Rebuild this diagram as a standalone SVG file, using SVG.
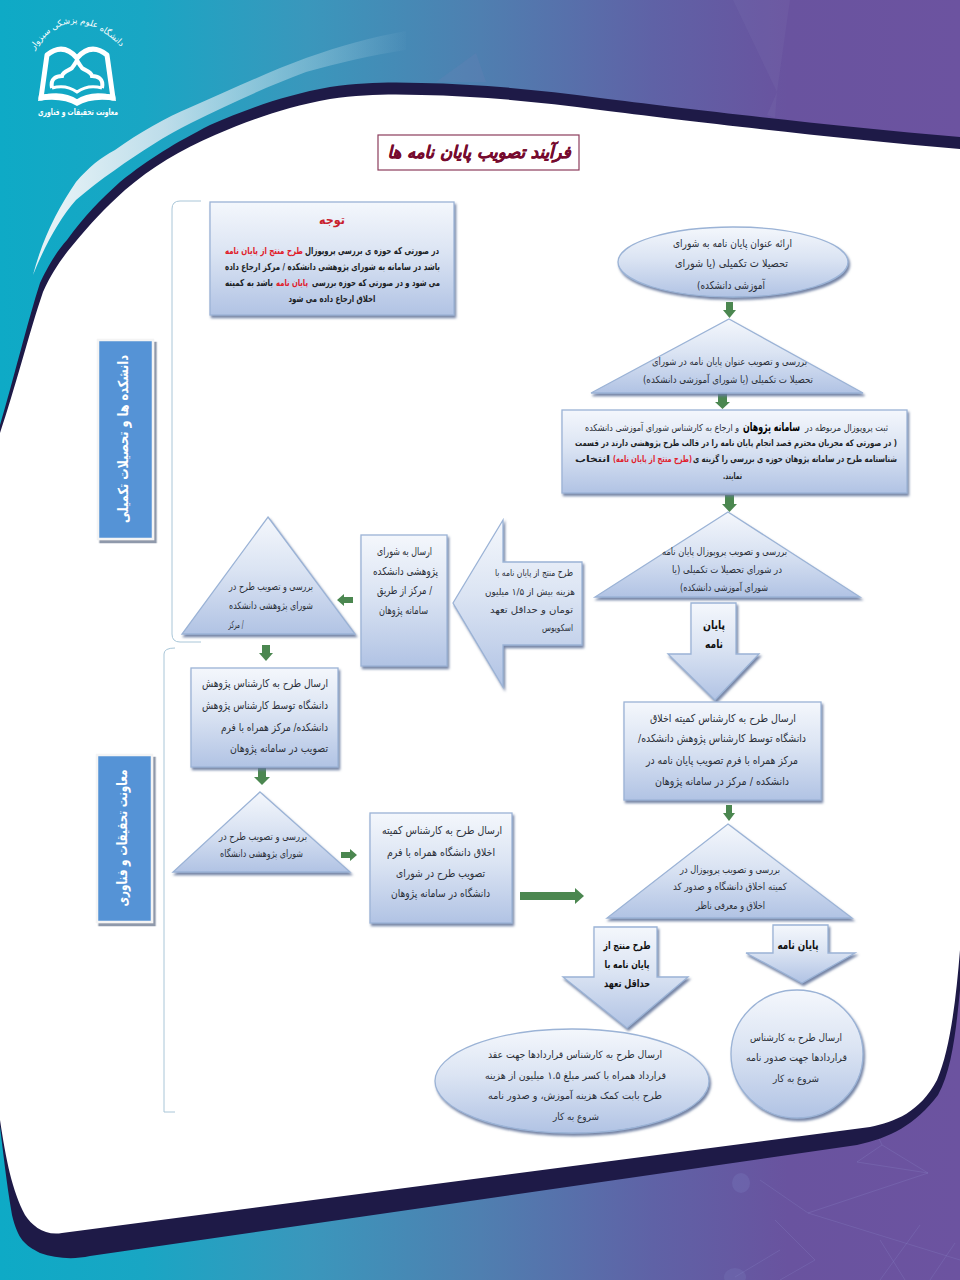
<svg xmlns="http://www.w3.org/2000/svg" width="960" height="1280" viewBox="0 0 960 1280">
<style>
text{font-family:"DejaVu Sans","Noto Sans",sans-serif;direction:rtl;text-anchor:middle;fill:#2a2f38}
.r{font-size:11px}
.s{font-size:10px}
.b{font-weight:bold;font-size:9.5px;fill:#1c1f26}
.p{font-weight:bold;font-size:9px;fill:#1c1f26}
.h{font-weight:bold;font-size:11.5px;fill:#111}
.red{fill:#e0202c}
.shape{fill:url(#nodeFill);stroke:#9bb3d6;stroke-width:1.3;filter:url(#sh)}
.conn{fill:#4b8750}
.br{fill:none;stroke:#a9c6d8;stroke-width:1}
.lab{fill:#5593d6;stroke:#f4f4f4;stroke-width:2.5;filter:url(#lsh)}
.lt{fill:#fff;font-weight:bold;font-size:14px}
.net{fill:none;stroke:#8a86c4;stroke-width:1;opacity:.28}
</style>
<defs>
<linearGradient id="bg" x1="0" x2="1" y1="0" y2="0">
<stop offset="0" stop-color="#0eaac6"/><stop offset=".15" stop-color="#19a6c4"/><stop offset=".32" stop-color="#3a97bc"/><stop offset=".5" stop-color="#4f7fb0"/><stop offset=".68" stop-color="#5f62a6"/><stop offset=".82" stop-color="#69539f"/><stop offset="1" stop-color="#6c53a0"/>
</linearGradient>
<linearGradient id="nodeFill" x1="0" x2="0" y1="0" y2="1">
<stop offset="0" stop-color="#f4f7fc"/><stop offset=".45" stop-color="#dbe4f3"/><stop offset="1" stop-color="#b1c3e4"/>
</linearGradient>
<linearGradient id="swoosh" gradientUnits="userSpaceOnUse" x1="60" y1="0" x2="410" y2="0">
<stop offset="0" stop-color="#e4f1f6"/><stop offset=".3" stop-color="#cfe3ee" stop-opacity=".9"/><stop offset="1" stop-color="#cfe3ee" stop-opacity="0"/>
</linearGradient>
<filter id="sh" x="-10%" y="-10%" width="120%" height="125%"><feDropShadow dx="1.500" dy="2.500" stdDeviation=".8" flood-color="#66789c" flood-opacity=".9"/></filter>
<filter id="lsh" x="-10%" y="-10%" width="125%" height="115%"><feDropShadow dx="2.500" dy="3" stdDeviation=".4" flood-color="#8f99ab" flood-opacity="1"/></filter>
</defs>

<g id="background">
<rect width="960" height="1280" fill="url(#bg)"/>
<path d="M733 0H790L777 92Z M436 82L476 53L486 82Z M767 115L777 92L775 118Z" fill="#8a83bd" opacity=".13"/>
<path class="net" d="M882 1145L928 1173L857 1162L882 1145M928 1173L808 1213L960 1260M808 1213L760 1180M882 1145L875 1130M780 1250L735 1277M775 1220L815 1260L780 1280M880 1240L905 1280M920 1225L880 1280M955 1243L930 1280"/>
<ellipse cx="741" cy="1183" rx="9" ry="10" fill="#7b7fbf" opacity=".3"/>
<ellipse cx="735" cy="1277" rx="11" ry="9" fill="#7b7fbf" opacity=".25"/>
<path d="M33 275C42 240 58 208 76 182C90 166 100 158 115 150C140 132 165 118 191 107C230 90 268 72 306 58C340 46 372 37 406 31V50C372 55 338 63 306 72C268 86 230 104 191 123C165 136 140 152 115 170C100 180 88 190 76 200C60 218 45 245 33 275Z" fill="url(#swoosh)"/>
<path d="M0 425C12 385 28 320 40 283C50 262 58 250 67 240C85 215 100 200 120 182C150 158 175 143 210 125C250 108 285 95 330 87C365 82 395 82 421 83C480 84 540 90 600 98C680 108 820 125 960 137V990C956 1030 952 1070 938 1095C915 1125 890 1138 857 1145L90 1256C72 1260 55 1258 40 1253C25 1245 18 1240 12 1215C6 1180 3 1150 0 1127Z" fill="#1e1a47"/>
<path d="M0 433C14 392 30 330 43 292C52 272 62 258 72 246C90 224 105 208 125 190C152 167 180 150 215 135C250 120 285 107 330 99C365 94 395 94 421 95C480 96 540 102 600 110C680 120 820 137 960 149V950C956 1000 950 1050 937 1080C920 1112 895 1122 870 1127L62 1233C45 1236 32 1226 25 1215C12 1190 6 1160 0 1120Z" fill="#fff"/>
</g>

<g id="logo">
<path d="M47 55Q63 42 77 58Q91 42 107 55L113 98Q92 92 77 102Q62 92 41 98Z" fill="none" stroke="#fff" stroke-width="5" stroke-linejoin="round"/>
<path d="M39 95Q62 91 77 100Q92 91 115 95L116 101Q92 97 77 106Q62 97 38 101Z" fill="#fff"/>
<path d="M52 88C50 78 57 76 62 76C63 71 70 70 72 68C74 65 76 63 77 60C78 63 80 65 82 68C84 70 91 71 92 76C97 76 104 78 102 88" fill="none" stroke="#fff" stroke-width="4"/>
<path d="M52 88Q66 84 77 92Q88 84 102 88" fill="none" stroke="#fff" stroke-width="3"/>
<path id="arc" d="M30 56Q70 -8 126 52" fill="none"/>
<text style="fill:#fff;font-size:8.500px"><textPath href="#arc" startOffset="50%">دانشگاه علوم پزشکی سبزوار</textPath></text>
<text x="78" y="115" style="fill:#fff;font-weight:bold;font-size:9px" textLength="80" lengthAdjust="spacingAndGlyphs">معاونت تحقیقات و فناوری</text>
</g>

<g id="title">
<rect x="378" y="135" width="201" height="35" fill="#fff" stroke="#8c3d5c" stroke-width="1.200"/>
<text x="479" y="158" style="fill:#760a2e;stroke:#760a2e;stroke-width:.4;font-weight:bold;font-style:italic;font-size:17px" textLength="183" lengthAdjust="spacingAndGlyphs">فرآیند تصویب پایان نامه ها</text>
</g>

<g id="brackets">
<path class="br" d="M201 201H180Q172 201 172 209V634Q172 642 180 642H201"/>
<path class="br" d="M175 648Q164 648 164 654V1112H175"/>
</g>

<g id="label-faculty">
<rect class="lab" x="98" y="340" width="55" height="199"/>
<text class="lt" transform="translate(128 439) rotate(-90)" textLength="168" lengthAdjust="spacingAndGlyphs">دانشکده ها و تحصیلات تکمیلی</text>
</g>
<g id="label-research">
<rect class="lab" x="97" y="755" width="55" height="167"/>
<text class="lt" transform="translate(127 838) rotate(-90)" textLength="137" lengthAdjust="spacingAndGlyphs">معاونت تحقیقات و فناوری</text>
</g>

<g id="connectors">
<polygon class="conn" points="726,302 733,302 733,310 736,310 729.500,318 723,310 726,310"/>
<polygon class="conn" points="718,393 727,393 727,402 730,402 722.500,409 715,402 718,402"/>
<polygon class="conn" points="725,495 734,495 734,504 737,504 729.500,512 722,504 725,504"/>
<polygon class="conn" points="726,805 732,805 732,813 735,813 729,821 723,813 726,813"/>
<polygon class="conn" points="353,597 344,597 344,594 337,600 344,606 344,603 353,603"/>
<polygon class="conn" points="262,645 270,645 270,653 273,653 266,661 259,653 262,653"/>
<polygon class="conn" points="258,768 266,768 266,777 270,777 262,785 254,777 258,777"/>
<polygon class="conn" points="341,852 350,852 350,849 357,855 350,861 350,858 341,858"/>
<polygon class="conn" points="520,892 575,892 575,888 584,896 575,904 575,900 520,900"/>
</g>

<g id="note">
<rect class="shape" x="210" y="202" width="244" height="113"/>
<text x="332" y="224" style="fill:#c8202c;font-weight:bold;font-size:12px" textLength="26" lengthAdjust="spacingAndGlyphs">توجه</text>
<text class="b" x="372" y="254" textLength="134" lengthAdjust="spacingAndGlyphs">در صورتی که حوزه ی بررسی پروپوزال</text>
<text class="b red" x="264" y="254" textLength="78" lengthAdjust="spacingAndGlyphs">طرح منتج از پایان نامه</text>
<text class="b" x="332.500" y="270" textLength="215" lengthAdjust="spacingAndGlyphs">باشد در سامانه به شورای پژوهشی دانشکده / مرکز ارجاع داده</text>
<text class="b" x="376" y="286" textLength="128" lengthAdjust="spacingAndGlyphs">می شود و در صورتی که حوزه بررسی</text>
<text class="b red" x="292" y="286" textLength="32" lengthAdjust="spacingAndGlyphs">پایان نامه</text>
<text class="b" x="249" y="286" textLength="48" lengthAdjust="spacingAndGlyphs">باشد به کمیته</text>
<text class="b" x="332" y="302" textLength="87" lengthAdjust="spacingAndGlyphs">اخلاق ارجاع داده می شود</text>
</g>

<g id="start-ellipse">
<ellipse class="shape" cx="733" cy="262" rx="115" ry="35"/>
<text class="r" x="732.500" y="247" textLength="119" lengthAdjust="spacingAndGlyphs">ارائه عنوان پایان نامه به شورای</text>
<text class="r" x="731.500" y="267" textLength="113" lengthAdjust="spacingAndGlyphs">تحصیلا ت تکمیلی (یا شورای</text>
<text class="r" x="731" y="289" textLength="68" lengthAdjust="spacingAndGlyphs">آموزشی دانشکده)</text>
</g>

<g id="title-review">
<polygon class="shape" points="729,319 863,393 591,393"/>
<text class="s" x="729.500" y="365" textLength="155" lengthAdjust="spacingAndGlyphs">بررسی و تصویب عنوان پایان نامه در شورای</text>
<text class="s" x="728" y="383" textLength="170" lengthAdjust="spacingAndGlyphs">تحصیلا ت تکمیلی (یا شورای آموزشی دانشکده)</text>
</g>

<g id="proposal-entry">
<rect class="shape" x="562" y="410" width="345" height="83"/>
<text class="s" x="846.500" y="431" style="font-size:9.500px" textLength="83" lengthAdjust="spacingAndGlyphs">ثبت پروپوزال مربوطه در</text>
<text x="771.500" y="431" style="font-weight:bold;font-size:12px;fill:#000" textLength="57" lengthAdjust="spacingAndGlyphs">سامانه پژوهان</text>
<text class="s" x="662" y="431" style="font-size:9.500px" textLength="154" lengthAdjust="spacingAndGlyphs">و ارجاع به کارشناس شورای آموزشی دانشکده</text>
<text class="p" x="736" y="446" textLength="322" lengthAdjust="spacingAndGlyphs">( در صورتی که مجریان محترم قصد انجام پایان نامه را در قالب طرح پژوهشی دارند در قسمت</text>
<text class="p" x="795" y="462" textLength="204" lengthAdjust="spacingAndGlyphs">شناسنامه طرح در سامانه پژوهان حوزه ی بررسی را گزینه ی</text>
<text class="p red" x="652.500" y="462" textLength="79" lengthAdjust="spacingAndGlyphs">(طرح منتج از پایان نامه)</text>
<text class="p" x="592.500" y="462" textLength="35" lengthAdjust="spacingAndGlyphs">انتخاب</text>
<text class="p" x="732.500" y="479" textLength="19" lengthAdjust="spacingAndGlyphs">نمایند.</text>
</g>

<g id="proposal-review">
<polygon class="shape" points="728,512 860,597 595,597"/>
<text class="s" x="724.500" y="555" textLength="125" lengthAdjust="spacingAndGlyphs">بررسی و تصویب پروپوزال پایان نامه</text>
<text class="s" x="727" y="573" textLength="110" lengthAdjust="spacingAndGlyphs">در شورای تحصیلا ت تکمیلی (یا</text>
<text class="s" x="724" y="591" textLength="88" lengthAdjust="spacingAndGlyphs">شورای آموزشی دانشکده)</text>
</g>

<g id="scopus-arrow">
<polygon class="shape" points="453,603 503,520 503,562 582,562 582,645 503,645 503,687"/>
<text class="s" x="534" y="576" style="font-size:9.500px" textLength="78" lengthAdjust="spacingAndGlyphs">طرح منتج از پایان نامه با</text>
<text class="s" x="530" y="595" style="font-size:9.500px" textLength="90" lengthAdjust="spacingAndGlyphs">هزینه بیش از  ۱/۵  میلیون</text>
<text class="s" x="531.500" y="613" style="font-size:9.500px" textLength="83" lengthAdjust="spacingAndGlyphs">تومان و حداقل تعهد</text>
<text class="s" x="557.500" y="631" style="font-size:9.500px" textLength="31" lengthAdjust="spacingAndGlyphs">اسکوپوس</text>
</g>

<g id="send-faculty-council">
<rect class="shape" x="361" y="535" width="86" height="131"/>
<text class="r" x="404.500" y="555" textLength="55" lengthAdjust="spacingAndGlyphs">ارسال به شورای</text>
<text class="r" x="405.500" y="575" textLength="65" lengthAdjust="spacingAndGlyphs">پژوهشی دانشکده</text>
<text class="r" x="404.500" y="594" textLength="55" lengthAdjust="spacingAndGlyphs">/ مرکز از طریق</text>
<text class="r" x="403.500" y="614" textLength="49" lengthAdjust="spacingAndGlyphs">سامانه پژوهان</text>
</g>

<g id="faculty-council-review">
<polygon class="shape" points="268,517 355,634 182,634"/>
<text class="s" x="271" y="590" textLength="84" lengthAdjust="spacingAndGlyphs">بررسی و تصویب طرح در</text>
<text class="s" x="271" y="609" textLength="84" lengthAdjust="spacingAndGlyphs">شورای پژوهشی دانشکده</text>
<text class="s" x="236" y="628" textLength="15" lengthAdjust="spacingAndGlyphs">/ مرکز</text>
</g>

<g id="arrow-thesis">
<polygon class="shape" points="691,603 736,603 736,654 759,654 715,700 668,654 691,654"/>
<text class="h" x="714" y="629" textLength="22" lengthAdjust="spacingAndGlyphs">پایان</text>
<text class="h" x="714" y="648" textLength="18" lengthAdjust="spacingAndGlyphs">نامه</text>
</g>

<g id="send-ethics-faculty">
<rect class="shape" x="624" y="702" width="197" height="98"/>
<text class="r" x="723" y="722" textLength="146" lengthAdjust="spacingAndGlyphs">ارسال طرح به کارشناس کمیته اخلاق</text>
<text class="r" x="722" y="742" textLength="168" lengthAdjust="spacingAndGlyphs">دانشگاه توسط کارشناس پژوهش دانشکده/</text>
<text class="r" x="722" y="764" textLength="152" lengthAdjust="spacingAndGlyphs">مرکز همراه با فرم تصویب پایان نامه در</text>
<text class="r" x="722" y="785" textLength="134" lengthAdjust="spacingAndGlyphs">دانشکده / مرکز  در سامانه پژوهان</text>
</g>

<g id="ethics-review">
<polygon class="shape" points="728,824 852,918 607,918"/>
<text class="s" x="730" y="873" textLength="100" lengthAdjust="spacingAndGlyphs">بررسی و تصویب پروپوزال در</text>
<text class="s" x="730" y="890" textLength="114" lengthAdjust="spacingAndGlyphs">کمیته اخلاق دانشگاه و صدور کد</text>
<text class="s" x="730.500" y="909" textLength="69" lengthAdjust="spacingAndGlyphs">اخلاق و معرفی ناظر</text>
</g>

<g id="arrow-thesis-2">
<polygon class="shape" points="773,925 828,925 828,953 855,953 802,983 746,953 773,953"/>
<text class="h" x="798" y="949" textLength="41" lengthAdjust="spacingAndGlyphs">پایان نامه</text>
</g>

<g id="arrow-derived">
<polygon class="shape" points="594,927 657,927 657,977 688,977 627,1028 563,977 594,977"/>
<text class="h" x="627" y="949" style="font-size:10.500px" textLength="47" lengthAdjust="spacingAndGlyphs">طرح منتج از</text>
<text class="h" x="627" y="968" style="font-size:10.500px" textLength="45" lengthAdjust="spacingAndGlyphs">پایان نامه با</text>
<text class="h" x="627" y="987" style="font-size:10.500px" textLength="46" lengthAdjust="spacingAndGlyphs">حداقل تعهد</text>
</g>

<g id="contract-ellipse">
<ellipse class="shape" cx="572" cy="1081" rx="137" ry="52"/>
<text class="s" x="575" y="1058" textLength="174" lengthAdjust="spacingAndGlyphs">ارسال طرح به کارشناس قراردادها جهت عقد</text>
<text class="s" x="575.500" y="1079" textLength="181" lengthAdjust="spacingAndGlyphs">قرارداد همراه با کسر مبلغ ۱.۵ میلیون از هزینه</text>
<text class="s" x="575" y="1099" textLength="174" lengthAdjust="spacingAndGlyphs">طرح بابت کمک هزینه آموزش، و  صدور نامه</text>
<text class="s" x="576" y="1120" textLength="46" lengthAdjust="spacingAndGlyphs">شروع به کار</text>
</g>

<g id="contract-circle">
<ellipse class="shape" cx="797" cy="1054" rx="66" ry="64"/>
<text class="s" x="796" y="1041" textLength="92" lengthAdjust="spacingAndGlyphs">ارسال طرح به کارشناس</text>
<text class="s" x="796.500" y="1061" textLength="101" lengthAdjust="spacingAndGlyphs">قراردادها جهت صدور نامه</text>
<text class="s" x="796" y="1082" textLength="46" lengthAdjust="spacingAndGlyphs">شروع به کار</text>
</g>

<g id="send-university">
<rect class="shape" x="191" y="668" width="147" height="99"/>
<text class="r" x="265" y="687" textLength="126" lengthAdjust="spacingAndGlyphs">ارسال طرح به کارشناس پژوهش</text>
<text class="r" x="265" y="709" textLength="126" lengthAdjust="spacingAndGlyphs">دانشگاه توسط کارشناس پژوهش</text>
<text class="r" x="274.500" y="731" textLength="107" lengthAdjust="spacingAndGlyphs">دانشکده/ مرکز همراه با فرم</text>
<text class="r" x="279" y="752" textLength="98" lengthAdjust="spacingAndGlyphs">تصویب در سامانه پژوهان</text>
</g>

<g id="university-review">
<polygon class="shape" points="260,792 350,872 173,872"/>
<text class="s" x="263" y="840" textLength="88" lengthAdjust="spacingAndGlyphs">بررسی و تصویب طرح در</text>
<text class="s" x="261.500" y="857" textLength="83" lengthAdjust="spacingAndGlyphs">شورای پژوهشی دانشگاه</text>
</g>

<g id="send-ethics-university">
<rect class="shape" x="370" y="813" width="142" height="110"/>
<text class="r" x="442" y="834" textLength="120" lengthAdjust="spacingAndGlyphs">ارسال طرح به کارشناس کمیته</text>
<text class="r" x="441" y="856" textLength="108" lengthAdjust="spacingAndGlyphs">اخلاق دانشگاه همراه با فرم</text>
<text class="r" x="440.500" y="877" textLength="89" lengthAdjust="spacingAndGlyphs">تصویب طرح در شورای</text>
<text class="r" x="440.500" y="897" textLength="99" lengthAdjust="spacingAndGlyphs">دانشگاه در سامانه پژوهان</text>
</g>
</svg>
